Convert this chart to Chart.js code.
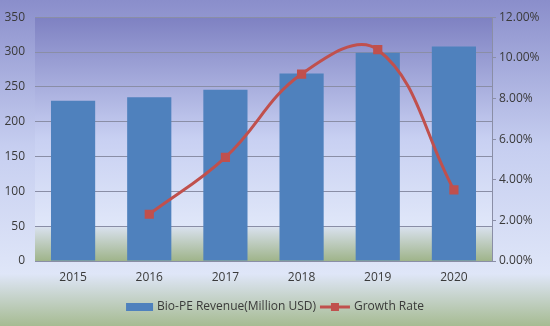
<!DOCTYPE html>
<html>
<head>
<meta charset="utf-8">
<script src="https://cdn.jsdelivr.net/npm/chart.js@4/dist/chart.umd.min.js"></script>
<style>
  html, body { margin: 0; padding: 0; background: #fff; }
  #wrap { width: 550px; height: 326px; }
</style>
</head>
<body>
<div id="wrap"><canvas id="chart1" width="550" height="326"></canvas></div>
<script>
const years = ['2015', '2016', '2017', '2018', '2019', '2020'];
const revenue = [230, 235, 246, 269, 299, 308];
const growthRate = [null, 2.3, 5.1, 9.2, 10.4, 3.5];
const revenueLabel = 'Bio-PE Revenue(Million USD)';
const growthLabel = 'Growth Rate';

const fontFamily = "'Open Sans', 'DejaVu Sans', sans-serif";
const textColor = '#3a3a3a';

// backgrounds: whole canvas and plot area have their own gradients
const backgroundPlugin = {
  id: 'backgrounds',
  beforeDraw(chart) {
    const ctx = chart.ctx;
    const w = chart.width;
    const h = chart.height;
    ctx.save();
    let g = ctx.createLinearGradient(0, 0, 0, h);
    g.addColorStop(0, '#8a8ecb');
    g.addColorStop(0.45, '#c6cef0');
    g.addColorStop(0.84, '#dfe6f8');
    g.addColorStop(1, '#a6bb92');
    ctx.fillStyle = g;
    ctx.fillRect(0, 0, w, h);

    const a = chart.chartArea;
    g = ctx.createLinearGradient(0, a.top, 0, a.bottom);
    g.addColorStop(0, '#7e81c2');
    g.addColorStop(0.5, '#c8d0f2');
    g.addColorStop(0.855, '#e0e7f9');
    g.addColorStop(0.86, '#d9e1ee');
    g.addColorStop(1, '#9fb48a');
    ctx.fillStyle = g;
    ctx.fillRect(a.left, a.top, a.right - a.left, a.bottom - a.top);
    ctx.restore();
  },
};

// legend drawn by hand so the line entry gets its square marker
const legendPlugin = {
  id: 'customLegend',
  afterDraw(chart) {
    const ctx = chart.ctx;
    const bar = chart.data.datasets[1];
    const line = chart.data.datasets[0];
    ctx.save();
    ctx.font = '12px ' + fontFamily;
    ctx.textBaseline = 'middle';
    const w1 = ctx.measureText(bar.label).width;
    const w2 = ctx.measureText(line.label).width;
    const total = 27 + 4 + w1 + 4 + 30 + 4 + w2;
    let x = chart.width / 2 - total / 2;
    const y = 307;

    ctx.fillStyle = bar.backgroundColor;
    ctx.fillRect(x, y - 4, 27, 8);
    x += 31;
    ctx.fillStyle = textColor;
    ctx.fillText(bar.label, x, y);
    x += w1 + 4;

    ctx.strokeStyle = line.borderColor;
    ctx.lineWidth = 3;
    ctx.beginPath();
    ctx.moveTo(x, y);
    ctx.lineTo(x + 30, y);
    ctx.stroke();
    ctx.fillStyle = line.pointBackgroundColor;
    ctx.fillRect(x + 11, y - 4, 8, 8);
    x += 34;
    ctx.fillStyle = textColor;
    ctx.fillText(line.label, x, y);
    ctx.restore();
  },
};

const ctx = document.getElementById('chart1');

new Chart(ctx, {
  data: {
    labels: years,
    datasets: [
      {
        type: 'line',
        label: growthLabel,
        data: growthRate,
        yAxisID: 'y1',
        borderColor: '#c0504d',
        borderWidth: 3,
        tension: 0.4,
        pointStyle: 'rect',
        pointRadius: 6.5,
        pointBackgroundColor: '#c0504d',
        pointBorderColor: '#c0504d',
        pointBorderWidth: 0,
        order: 1,
      },
      {
        type: 'bar',
        label: revenueLabel,
        data: revenue,
        yAxisID: 'y',
        backgroundColor: '#4f81bd',
        categoryPercentage: 0.58,
        barPercentage: 1,
        order: 2,
      },
    ],
  },
  options: {
    responsive: false,
    animation: false,
    layout: {
      padding: { top: 11, bottom: 41, left: 0, right: 0 },
    },
    scales: {
      x: {
        grid: { display: false, drawTicks: false },
        border: { display: false },
        ticks: {
          color: textColor,
          padding: 9,
          font: { size: 12, family: fontFamily },
        },
        afterFit(scale) {
          scale.height = 24;
        },
      },
      y: {
        position: 'left',
        min: 0,
        max: 350,
        grid: {
          color: '#8a8ea6',
          drawTicks: false,
        },
        border: { display: false },
        ticks: {
          stepSize: 50,
          color: textColor,
          padding: 10,
          font: { size: 12, family: fontFamily },
        },
        afterFit(scale) {
          scale.width = 35;
        },
      },
      y1: {
        position: 'right',
        min: 0,
        max: 12,
        grid: {
          drawOnChartArea: false,
          color: '#8a8ea6',
          tickLength: 4,
        },
        border: { display: true, color: '#8a8ea6' },
        ticks: {
          stepSize: 2,
          color: textColor,
          padding: 3,
          font: { size: 12, family: fontFamily },
          callback: value => value.toFixed(2) + '%',
        },
        afterFit(scale) {
          scale.width = 58;
        },
      },
    },
    plugins: {
      legend: { display: false },
      tooltip: { enabled: false },
    },
  },
  plugins: [backgroundPlugin, legendPlugin],
});
</script>
</body>
</html>
